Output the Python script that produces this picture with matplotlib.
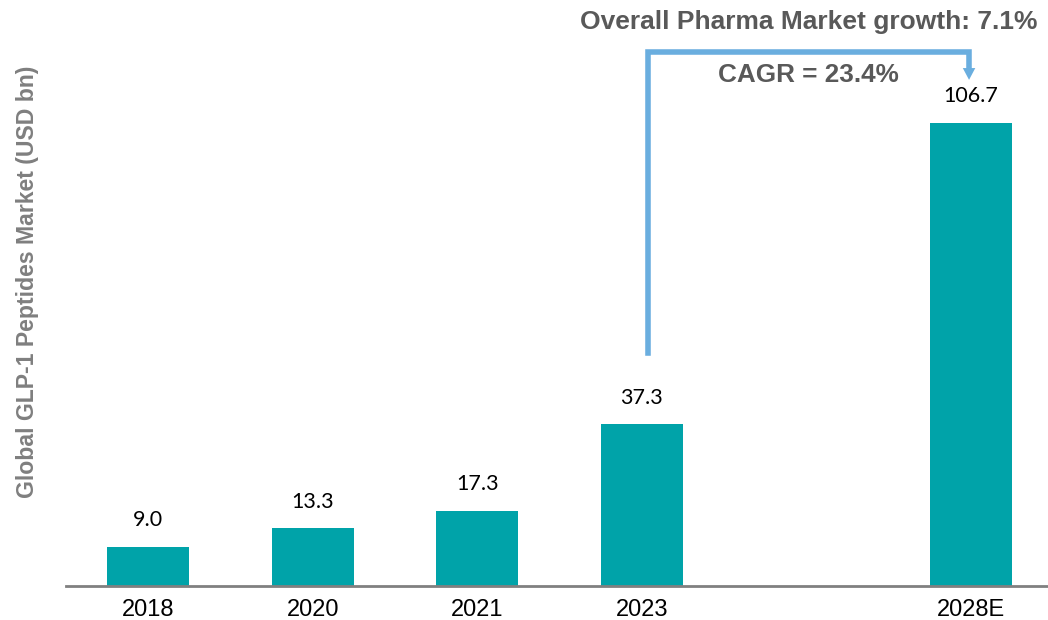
import matplotlib
matplotlib.use("Agg")
import matplotlib.pyplot as plt

categories = ["2018", "2020", "2021", "2023", "2028E"]
positions = [0, 1, 2, 3, 5]
values = [9.0, 13.3, 17.3, 37.3, 106.7]
value_labels = ["9.0", "13.3", "17.3", "37.3", "106.7"]

fig = plt.figure(figsize=(10.48, 6.2), dpi=100)
ax = fig.add_axes([66/1048, 34/620, 982/1048, 586/620])
bar_color = "#00A3A9"
ax.bar(positions, values, width=0.5, color=bar_color)
ax.set_xlim(-0.5, 5.47)
ax.set_ylim(0, 135)

for p, v, lab in zip(positions, values, value_labels):
    ax.text(p, v + 3.8, lab, ha="center", va="bottom", fontsize=15.5,
            family="Lato", color="black")

ax.set_xticks(positions)
ax.set_xticklabels(categories, fontsize=17, family="Liberation Sans")
ax.tick_params(axis="x", length=0, pad=9)
ax.set_yticks([])
for s in ["top", "right", "left"]:
    ax.spines[s].set_visible(False)
ax.spines["bottom"].set_color("#808080")
ax.spines["bottom"].set_linewidth(2)

fig.text(28/1048, 1 - 282/620, "Global GLP-1 Peptides Market (USD bn)", rotation=90,
         ha="center", va="center", fontsize=16.6, fontweight="bold",
         family="Liberation Sans", color="#7F7F7F")

# bracket
line_color = "#6AAEDF"
x0, x1 = 3.04, 4.99
y0, ytop, yend = 53.7, 123.0, 119.0
ax.plot([x0, x0, x1, x1], [y0, ytop, ytop, yend], color=line_color, lw=4,
        solid_joinstyle="miter", clip_on=False)
ax.annotate("", xy=(x1, 116.6), xytext=(x1, 119.4),
            arrowprops=dict(arrowstyle="-|>,head_width=0.45,head_length=0.85",
                            mutation_scale=10, color=line_color, lw=0,
                            shrinkA=0, shrinkB=0))

fig.text(809/1048, 1 - 22/620, "Overall Pharma Market growth: 7.1%", ha="center",
         va="center", fontsize=19, fontweight="bold", family="Liberation Sans",
         color="#595959")
ax.text(808/1048, 1 - 75/620, "CAGR = 23.4%", transform=fig.transFigure, ha="center",
        va="center", fontsize=18.8, fontweight="bold", family="Liberation Sans",
        color="#595959")

fig.savefig("out.png", dpi=100)
